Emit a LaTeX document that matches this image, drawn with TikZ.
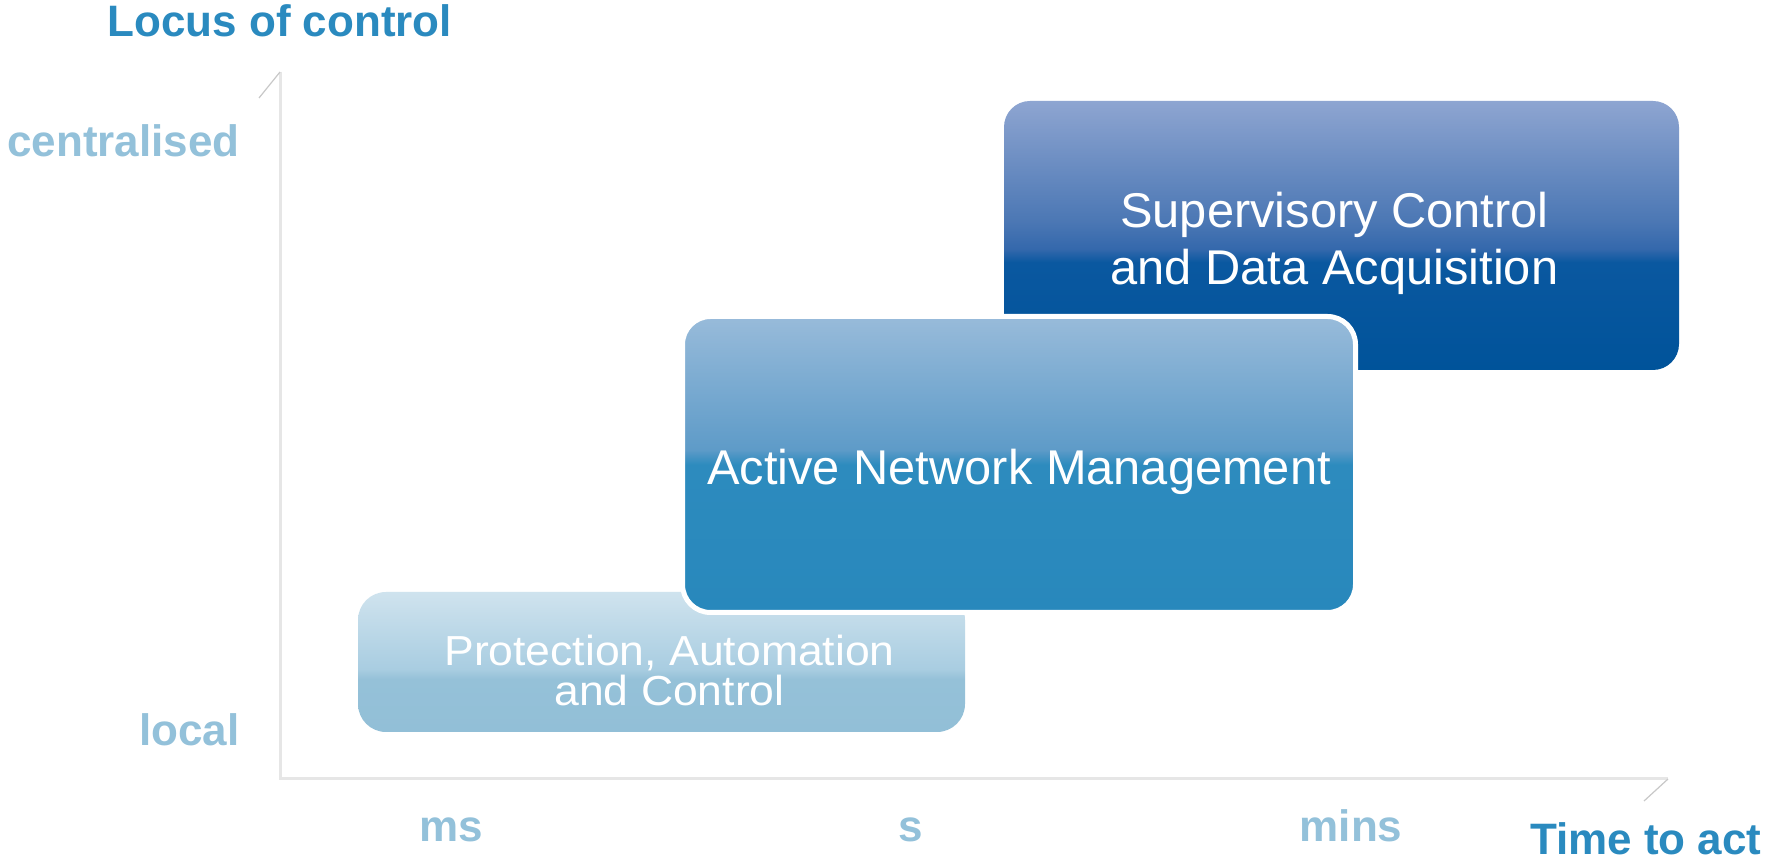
\documentclass[tikz,border=0pt]{standalone}
\usepackage{fontspec}
\setmainfont{Liberation Sans}
\newfontfamily\prfam[FakeStretch=1.06]{Liberation Sans}
\definecolor{titleblue}{HTML}{2A8ABF}
\definecolor{ticklight}{HTML}{93C1DA}
\definecolor{axisgray}{HTML}{E6E6E6}
\definecolor{tickgray}{HTML}{C8C8C8}
% SCADA colours
\definecolor{scT}{HTML}{8EA5D1}
\definecolor{scE}{HTML}{4B77B4}
\definecolor{scD}{HTML}{3468AC}
\definecolor{scC}{HTML}{0A58A0}
\definecolor{scB}{HTML}{00539A}
% ANM colours
\definecolor{anT}{HTML}{98BBDA}
\definecolor{anE}{HTML}{5E9BC8}
\definecolor{anC}{HTML}{2D8BBE}
\definecolor{anB}{HTML}{2888BC}
% PAC colours
\definecolor{prT}{HTML}{CFE3EE}
\definecolor{prE}{HTML}{A9CDE1}
\definecolor{prC}{HTML}{95C1D8}
\definecolor{prB}{HTML}{92BFD7}
\pgfdeclareverticalshading{scadash}{100bp}{color(0bp)=(scB); color(25bp)=(scB); color(45bp)=(scC); color(47.5bp)=(scD); color(52.5bp)=(scE); color(75bp)=(scT); color(100bp)=(scT)}
\pgfdeclareverticalshading{anmsh}{100bp}{color(0bp)=(anB); color(25bp)=(anB); color(50bp)=(anC); color(52.5bp)=(anE); color(75bp)=(anT); color(100bp)=(anT)}
\pgfdeclareverticalshading{protsh}{100bp}{color(0bp)=(prB); color(25bp)=(prB); color(44bp)=(prC); color(47.5bp)=(prE); color(75bp)=(prT); color(100bp)=(prT)}
\newcommand\bxfont{\fontsize{24.4pt}{28.5pt}\selectfont}
\newcommand\prfont{\prfam\fontsize{21pt}{21pt}\selectfont}
\newcommand\axfont{\bfseries\fontsize{22pt}{26pt}\selectfont}
\newcommand\twolines[3][0pt]{\begin{tabular}{@{}c@{}}#2\\[#1]#3\end{tabular}}
\begin{document}
\begin{tikzpicture}[x=0.5pt,y=-0.5pt,
  axisline/.style={draw=axisgray, line width=1.5pt},
  axtick/.style={draw=tickgray, line width=0.6pt},
  box/.style={inner sep=0pt, text=white},
  axtitle/.style={inner sep=0pt, text=titleblue, font=\axfont},
  axlabel/.style={inner sep=0pt, text=ticklight, font=\axfont}]
\useasboundingbox (0,0) rectangle (1769,865);
\fill[white] (0,0) rectangle (1769,865);
% axes
\coordinate (ytop) at (280,72);
\coordinate (orig) at (280,779);
\coordinate (xend) at (1668,779);
\coordinate (ytick) at (259,98);
\coordinate (xtick) at (1644,801);
\draw[axisline] (ytop) -- (orig) -- (xend);
\draw[axtick] (ytop) -- (ytick);
\draw[axtick] (xend) -- (xtick);
% boxes
\node[box, shading=protsh, minimum width=303.5pt, minimum height=70pt,
  rounded corners=14pt, font=\prfont] (pac) at (661.5,662)
  {\kern8pt\raisebox{-7.3pt}[\height][\depth]{\twolines[-1.85pt]{Protection, Automation}{and Control}}};
\node[box, shading=scadash, minimum width=337.5pt, minimum height=134.5pt,
  rounded corners=13pt, font=\bxfont] (scada) at (1341.5,235.5)
  {\kern-7pt\raisebox{-4.8pt}[\height][\depth]{\twolines{Supervisory Control}{and Data Acquisition}}};
\node[box, shading=anmsh, draw=white, line width=2.5pt, minimum width=336.5pt,
  minimum height=148pt, rounded corners=14pt, font=\bxfont, text depth=0pt] (anm) at (1019,464.5)
  {\raisebox{-1.25pt}[\height][\depth]{Active Network Management}};
% labels
\node[axtitle, anchor=base west] (locus) at (107,37) {Locus of control};
\node[axtitle, anchor=base east] (timeact) at (1762,855) {Time to act};
\node[axlabel, anchor=base east] (central) at (240,157) {centralised};
\node[axlabel, anchor=base east] (local) at (240,746) {local};
\node[axlabel, anchor=base] (ms) at (451,842) {ms};
\node[axlabel, anchor=base] (sec) at (911,842) {s};
\node[axlabel, anchor=base] (mins) at (1351,842) {mins};
\end{tikzpicture}
\end{document}
